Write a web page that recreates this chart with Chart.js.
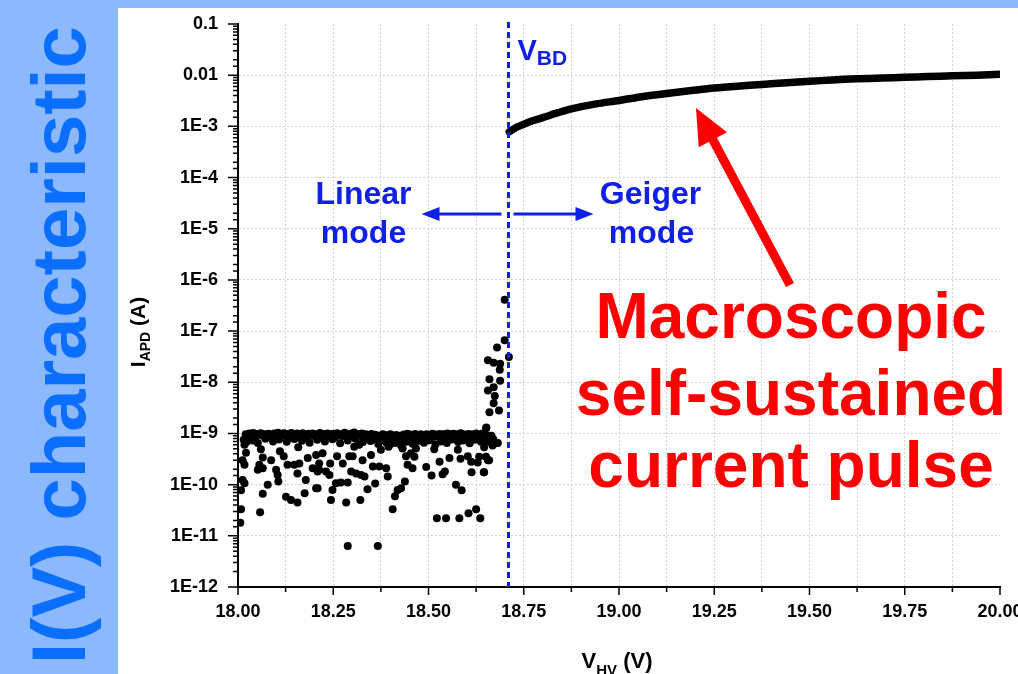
<!DOCTYPE html>
<html>
<head>
<meta charset="utf-8">
<title>I(V) characteristic</title>
<script src="https://cdn.jsdelivr.net/npm/chart.js@4.4.1/dist/chart.umd.min.js"></script>
<style>
  html, body { margin: 0; padding: 0; }
  body {
    width: 1018px; height: 674px; overflow: hidden; position: relative;
    background: #8cb8ff; font-family: "Liberation Sans", Arial, sans-serif;
  }
  #side {
    position: absolute; left: 21px; top: 664px;
    transform-origin: 0 0; transform: rotate(-90deg);
    font-weight: bold; font-size: 76px; line-height: 76px;
    color: #0a6eff; white-space: nowrap;
  }
  #panel { position: absolute; left: 118px; top: 8px; width: 900px; height: 666px; background: #fff; }
</style>
</head>
<body>
<div id="side">I(V) characteristic</div>
<div id="panel"><canvas id="chart" width="900" height="666"></canvas></div>
<script>
// --- données ---
const breakdownV = 18.71;

// bande principale du bruit (~1E-9 A)
const bandV = [
  18.015,18.020,18.025,18.030,18.035,18.040,18.045,18.050,18.055,18.060,
  18.065,18.070,18.075,18.080,18.085,18.090,18.095,18.100,18.105,18.110,
  18.115,18.120,18.125,18.130,18.135,18.140,18.145,18.150,18.155,18.160,
  18.165,18.170,18.175,18.180,18.185,18.190,18.195,18.200,18.205,18.210,
  18.215,18.220,18.225,18.230,18.235,18.240,18.245,18.250,18.255,18.260,
  18.265,18.270,18.275,18.280,18.285,18.290,18.295,18.300,18.305,18.310,
  18.315,18.320,18.325,18.330,18.335,18.340,18.345,18.350,18.355,18.360,
  18.365,18.370,18.375,18.380,18.385,18.390,18.395,18.400,18.405,18.410,
  18.415,18.420,18.425,18.430,18.435,18.440,18.445,18.450,18.455,18.460,
  18.465,18.470,18.475,18.480,18.490,18.495,18.500,18.505,18.510,18.515,
  18.520,18.525,18.530,18.535,18.540,18.545,18.550,18.555,18.560,18.565,
  18.570,18.575,18.580,18.585,18.590,18.595,18.600,18.605,18.610,18.615,
  18.620,18.625,18.630,18.635,18.640,18.645,18.650,18.655,18.660,18.665,18.670
];
const bandI = [
  7.5e-10,9.6e-10,8.8e-10,1.0e-9,9.2e-10,1.02e-9,8.4e-10,9.8e-10,9.5e-10,1.01e-9,
  9.0e-10,9.7e-10,8.6e-10,9.9e-10,9.3e-10,8.9e-10,1.0e-9,9.4e-10,1.03e-9,8.7e-10,
  9.6e-10,1.01e-9,9.1e-10,9.8e-10,8.3e-10,1.02e-9,9.5e-10,9.0e-10,1.0e-9,8.8e-10,
  9.7e-10,1.01e-9,9.2e-10,8.5e-10,9.9e-10,9.4e-10,1.0e-9,8.9e-10,9.6e-10,9.1e-10,
  1.02e-9,8.6e-10,9.8e-10,9.3e-10,1.0e-9,8.7e-10,9.5e-10,9.9e-10,8.4e-10,1.01e-9,
  9.2e-10,9.7e-10,8.9e-10,1.03e-9,9.4e-10,8.6e-10,9.9e-10,9.1e-10,1.04e-9,8.8e-10,
  9.6e-10,9.0e-10,1.0e-9,8.5e-10,9.7e-10,9.3e-10,8.2e-10,9.8e-10,8.7e-10,9.4e-10,
  7.6e-10,9.0e-10,8.3e-10,9.6e-10,7.9e-10,9.2e-10,8.5e-10,9.7e-10,7.4e-10,8.8e-10,
  9.3e-10,7.8e-10,9.0e-10,8.1e-10,9.5e-10,8.6e-10,9.9e-10,8.0e-10,9.4e-10,8.7e-10,
  9.8e-10,9.1e-10,8.4e-10,9.6e-10,8.9e-10,9.7e-10,8.2e-10,9.3e-10,9.9e-10,8.6e-10,
  9.5e-10,9.0e-10,9.8e-10,8.3e-10,9.6e-10,9.2e-10,1.0e-9,8.7e-10,9.4e-10,9.9e-10,
  8.5e-10,9.7e-10,9.1e-10,1.01e-9,8.8e-10,9.5e-10,9.0e-10,9.8e-10,8.4e-10,9.6e-10,
  9.2e-10,1.0e-9,8.6e-10,9.4e-10,9.9e-10,8.9e-10,9.3e-10,8.1e-10,9.0e-10,8.5e-10,7.7e-10
];

// bord inférieur de la bande
const bandLowV = [
  18.022,18.038,18.052,18.072,18.092,18.108,18.128,18.148,18.168,18.188,
  18.208,18.228,18.248,18.268,18.288,18.308,18.328,18.348,18.368,18.388,
  18.398,18.412,18.428,18.442,18.458,18.472,18.488,18.502,18.518,18.532,
  18.548,18.562,18.578,18.592,18.608,18.622,18.638,18.652,18.662
];
const bandLowI = [
  6.8e-10,7.3e-10,6.5e-10,7.9e-10,7.0e-10,7.6e-10,6.9e-10,7.8e-10,7.2e-10,6.6e-10,
  7.5e-10,7.0e-10,7.7e-10,6.4e-10,7.3e-10,7.9e-10,6.8e-10,7.1e-10,6.2e-10,6.7e-10,
  6.0e-10,6.5e-10,5.8e-10,6.9e-10,6.3e-10,7.1e-10,6.6e-10,7.4e-10,6.1e-10,7.0e-10,
  6.5e-10,7.6e-10,6.8e-10,7.3e-10,6.4e-10,7.5e-10,6.9e-10,7.2e-10,6.7e-10
];

// points dispersés sous la bande
const cloudV = [
  18.017,18.021,18.012,18.017,18.012,18.017,18.008,18.008,18.006,18.060,
  18.065,18.056,18.052,18.065,18.078,18.065,18.058,18.087,18.110,18.120,
  18.100,18.104,18.106,18.126,18.139,18.156,18.158,18.130,18.148,18.161,
  18.156,18.178,18.175,18.205,18.183,18.205,18.196,18.213,18.222,18.213,
  18.242,18.209,18.231,18.240,18.260,18.275,18.292,18.301,18.297,18.310,
  18.323,18.332,18.327,18.349,18.354,18.371,18.389,18.393,18.257,18.270,
  18.288,18.248,18.209,18.340,18.360,18.244,18.284,18.321,18.438,18.428,
  18.419,18.412,18.406,18.288,18.367,18.445,18.441,18.432,18.395,18.375,
  18.318,18.305,18.651,18.682,18.668,18.467,18.454,18.463,18.458,18.494,
  18.508,18.515,18.529,18.543,18.537,18.555,18.577,18.584,18.603,18.612,
  18.629,18.633,18.651,18.656,18.613,18.645,18.572,18.587,18.522,18.546,
  18.581,18.605,18.625,18.636
];
const cloudI = [
  6.0e-10,4.2e-10,3.0e-10,2.45e-10,1.23e-10,1.07e-10,7.8e-11,3.3e-11,1.8e-11,4.9e-10,
  3.4e-10,2.45e-10,1.95e-10,2.1e-10,1.0e-10,6.6e-11,2.9e-11,3.0e-10,4.5e-10,3.6e-10,
  1.95e-10,1.55e-10,1.15e-10,5.8e-11,5.0e-11,4.5e-11,5.4e-10,2.45e-10,2.45e-10,2.6e-10,
  1.65e-10,1.23e-10,6.8e-11,8.5e-11,3.3e-10,3.8e-10,2.1e-10,1.95e-10,4.1e-10,2.6e-10,
  2.6e-10,1.8e-10,1.8e-10,1.55e-10,3.6e-10,2.6e-10,3.6e-10,3.6e-10,1.8e-10,1.65e-10,
  1.55e-10,1.45e-10,3.0e-10,3.8e-10,2.25e-10,2.25e-10,2.1e-10,1.45e-10,1.07e-10,1.1e-10,
  1.1e-10,7.9e-11,8.5e-11,8.1e-11,1.05e-10,5.0e-11,4.5e-11,5.0e-11,1.15e-10,8.5e-11,
  7.9e-11,5.9e-11,3.3e-11,6.3e-12,6.3e-12,2.45e-10,3.6e-10,5.1e-10,5.5e-10,4.8e-10,
  6.0e-10,5.5e-10,1.26e-9,6.5e-10,5.8e-10,5.1e-10,4.1e-10,3.5e-10,2.1e-10,2.2e-10,
  1.5e-10,4.9e-10,2.8e-10,1.8e-10,1.6e-10,3.3e-10,4.8e-10,3.2e-10,3.6e-10,2.8e-10,
  2.7e-10,3.5e-10,3.5e-10,3.0e-10,1.75e-10,1.75e-10,1.0e-10,7.8e-11,2.2e-11,2.2e-11,
  2.2e-11,2.75e-11,3.3e-11,2.2e-11
];

// montée juste avant V_BD
const spikeV = [
  18.700,18.700,18.711,18.680,18.656,18.671,18.688,18.687,18.660,18.688,
  18.656,18.671,18.674,18.671,18.660,18.685,18.652,18.671,18.659,18.646,
  18.646,18.665
];
const spikeI = [
  4.1e-7,6.6e-8,3.1e-8,4.8e-8,2.7e-8,2.4e-8,2.3e-8,1.75e-8,1.15e-8,1.07e-8,
  6.9e-9,8.0e-9,5.4e-9,3.9e-9,2.6e-9,2.8e-9,1.3e-9,6.2e-10,3.0e-10,5.4e-10,
  1.75e-10,9.0e-10
];

// régime Geiger
const geigerV = [
  18.712,18.730,18.750,18.775,18.800,18.840,18.875,18.940,19.000,19.060,
  19.125,19.190,19.250,19.310,19.375,19.440,19.500,19.560,19.625,19.690,
  19.750,19.810,19.875,19.940,20.000
];
const geigerI = [
  7.8e-4,9.5e-4,1.1e-3,1.3e-3,1.48e-3,1.85e-3,2.2e-3,2.75e-3,3.2e-3,3.8e-3,
  4.4e-3,5.0e-3,5.6e-3,6.1e-3,6.6e-3,7.1e-3,7.6e-3,8.05e-3,8.5e-3,8.8e-3,
  9.1e-3,9.4e-3,9.7e-3,1.0e-2,1.04e-2
];

// graduations
const xTickValues = [18.0,18.25,18.5,18.75,19.0,19.25,19.5,19.75,20.0];
const xTickLabels = ["18.00","18.25","18.50","18.75","19.00","19.25","19.50","19.75","20.00"];
const yDecades = [0.1,0.01,1e-3,1e-4,1e-5,1e-6,1e-7,1e-8,1e-9,1e-10,1e-11,1e-12];
const yTickLabels = ["0.1","0.01","1E-3","1E-4","1E-5","1E-6","1E-7","1E-8","1E-9","1E-10","1E-11","1E-12"];

const FONT = '"Liberation Sans", Arial, sans-serif';
const BLUE = "#1020e8";
const RED = "#ff0000";
const GRID = "#d2d2d2";
const DOT = 4;

const toPoints = (vs, is) => vs.map((v, i) => ({ x: v, y: is[i] }));
const xIndex = v => xTickValues.findIndex(t => Math.abs(t - v) < 1e-6);
const yIndex = v => yDecades.findIndex(t => Math.abs(Math.log10(t) - Math.log10(v)) < 1e-6);

// texte avec indice
function subText(ctx, x, y, parts, align) {
  let w = 0;
  parts.forEach(p => {
    ctx.font = "bold " + p.size + "px " + FONT;
    p.w = ctx.measureText(p.t).width;
    w += p.w;
  });
  let cx = align === "center" ? x - w / 2 : x;
  parts.forEach(p => {
    ctx.font = "bold " + p.size + "px " + FONT;
    ctx.fillText(p.t, cx, y + (p.dy || 0));
    cx += p.w;
  });
}

function arrow(ctx, x1, y1, x2, y2, w, hl, hw, color) {
  const a = Math.atan2(y2 - y1, x2 - x1);
  const c = Math.cos(a), s = Math.sin(a);
  const bx = x2 - hl * c, by = y2 - hl * s;
  ctx.strokeStyle = color;
  ctx.fillStyle = color;
  ctx.lineWidth = w;
  ctx.beginPath();
  ctx.moveTo(x1, y1);
  ctx.lineTo(bx + c, by + s);
  ctx.stroke();
  ctx.beginPath();
  ctx.moveTo(x2, y2);
  ctx.lineTo(bx + hw * s, by - hw * c);
  ctx.lineTo(bx - hw * s, by + hw * c);
  ctx.closePath();
  ctx.fill();
}

const overlay = {
  id: "overlay",
  afterDatasetsDraw(chart) {
    const { ctx, chartArea: a, scales: { x } } = chart;
    const xb = x.getPixelForValue(breakdownV);
    ctx.save();
    // ligne V_BD
    ctx.strokeStyle = BLUE;
    ctx.lineWidth = 3;
    ctx.setLineDash([6, 4]);
    ctx.beginPath();
    ctx.moveTo(xb, a.top - 2);
    ctx.lineTo(xb, a.bottom);
    ctx.stroke();
    ctx.setLineDash([]);

    ctx.fillStyle = BLUE;
    ctx.textBaseline = "alphabetic";
    ctx.textAlign = "left";
    subText(ctx, xb + 9, 52, [{ t: "V", size: 29 }, { t: "BD", size: 21, dy: 5 }], "left");

    ctx.font = "bold 32px " + FONT;
    ctx.textAlign = "center";
    ctx.fillText("Linear", xb - 145, 196);
    ctx.fillText("mode", xb - 145, 235);
    ctx.fillText("Geiger", xb + 142, 196);
    ctx.fillText("mode", xb + 143, 235);

    arrow(ctx, xb - 7, 206, xb - 87, 206, 3, 18, 7, BLUE);
    arrow(ctx, xb + 5, 206, xb + 85, 206, 3, 18, 7, BLUE);

    // flèche rouge
    arrow(ctx, 672, 277, 578, 100, 9, 36, 16, RED);
    ctx.fillStyle = RED;
    ctx.font = "bold 64px " + FONT;
    ctx.textAlign = "center";
    ctx.fillText("Macroscopic", 673, 330);
    ctx.fillText("self-sustained", 673, 407);
    ctx.fillText("current pulse", 673, 479);
    ctx.restore();
  },
  afterDraw(chart) {
    const { ctx, chartArea: a, scales: { x, y } } = chart;
    ctx.save();
    ctx.strokeStyle = "#000";
    ctx.lineWidth = 1.5;
    ctx.beginPath();
    x.ticks.forEach(t => {
      const px = x.getPixelForValue(t.value);
      const len = xIndex(t.value) >= 0 ? 8 : 5;
      ctx.moveTo(px, a.bottom);
      ctx.lineTo(px, a.bottom + len);
    });
    y.ticks.forEach(t => {
      const py = y.getPixelForValue(t.value);
      const len = yIndex(t.value) >= 0 ? 10 : 5;
      ctx.moveTo(a.left, py);
      ctx.lineTo(a.left - len, py);
    });
    ctx.stroke();

    // titres des axes
    ctx.fillStyle = "#000";
    ctx.textAlign = "left";
    ctx.textBaseline = "alphabetic";
    subText(ctx, 499, 660, [{ t: "V", size: 22 }, { t: "HV", size: 15, dy: 7 }, { t: " (V)", size: 22 }], "center");
    ctx.translate(27, 324);
    ctx.rotate(-Math.PI / 2);
    subText(ctx, 0, 0, [{ t: "I", size: 21 }, { t: "APD", size: 14, dy: 5 }, { t: " (A)", size: 21 }], "center");
    ctx.restore();
  }
};

new Chart(document.getElementById("chart"), {
  type: "scatter",
  data: {
    datasets: [
      { data: toPoints(bandV, bandI), backgroundColor: "#000", borderWidth: 0, pointRadius: DOT },
      { data: toPoints(bandLowV, bandLowI), backgroundColor: "#000", borderWidth: 0, pointRadius: DOT },
      { data: toPoints(cloudV, cloudI), backgroundColor: "#000", borderWidth: 0, pointRadius: DOT },
      { data: toPoints(spikeV, spikeI), backgroundColor: "#000", borderWidth: 0, pointRadius: DOT },
      {
        data: toPoints(geigerV, geigerI), showLine: true, borderColor: "#000", borderWidth: 7.5,
        pointRadius: 0, tension: 0.3, borderCapStyle: "round"
      }
    ]
  },
  options: {
    responsive: false,
    animation: false,
    devicePixelRatio: 1,
    layout: { padding: { top: 16, right: 18, left: 0, bottom: 0 } },
    plugins: { legend: { display: false }, tooltip: { enabled: false } },
    scales: {
      x: {
        type: "linear", min: 18, max: 20,
        afterFit: s => { s.height = 87; s.paddingLeft = 0; s.paddingRight = 0; },
        ticks: {
          stepSize: 0.125, autoSkip: false, maxRotation: 0, padding: 14, color: "#000",
          font: { family: FONT, size: 18, weight: "bold" },
          callback: v => { const k = xIndex(v); return k >= 0 ? xTickLabels[k] : ""; }
        },
        grid: {
          drawTicks: false, lineWidth: 1,
          color: c => (c.tick && (c.tick.value <= 18 || c.tick.value >= 20)) ? "rgba(0,0,0,0)" : GRID
        },
        border: { display: true, color: "#000", width: 2, dash: [2, 2] }
      },
      y: {
        type: "logarithmic", min: 1e-12, max: 0.1,
        afterFit: s => { s.width = 120; s.paddingTop = 0; s.paddingBottom = 0; },
        ticks: {
          autoSkip: false, padding: 20, color: "#000",
          font: { family: FONT, size: 18, weight: "bold" },
          callback: v => { const k = yIndex(v); return k >= 0 ? yTickLabels[k] : ""; }
        },
        grid: {
          drawTicks: false, lineWidth: 1,
          color: c => {
            if (!c.tick) return "rgba(0,0,0,0)";
            const k = yIndex(c.tick.value);
            return (k > 0 && k < yDecades.length - 1) ? GRID : "rgba(0,0,0,0)";
          }
        },
        border: { display: true, color: "#000", width: 2, dash: [2, 2] }
      }
    }
  },
  plugins: [overlay]
});
</script>
</body>
</html>
